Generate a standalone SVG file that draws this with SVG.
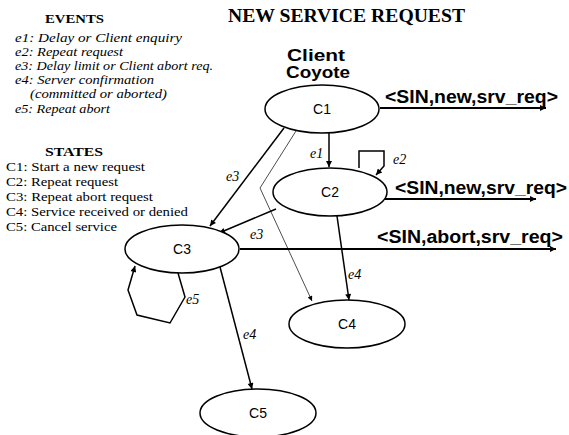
<svg xmlns="http://www.w3.org/2000/svg" width="569" height="435" viewBox="0 0 569 435">
<defs>
<marker id="ah" viewBox="0 0 10 10" refX="10" refY="5" markerWidth="9" markerHeight="6" markerUnits="userSpaceOnUse" orient="auto"><path d="M0,0 L10,5 L0,10 z" fill="#000"/></marker>
<marker id="ahs" viewBox="0 0 10 10" refX="10" refY="5" markerWidth="8" markerHeight="5" markerUnits="userSpaceOnUse" orient="auto"><path d="M0,0 L10,5 L0,10 z" fill="#000"/></marker>
<style>
.node{fill:#fff;stroke:#000;stroke-width:1.5}
.nl{font-family:"Liberation Sans",Arial,sans-serif;font-size:14px;text-anchor:middle}
.c{fill:none;stroke:#000;stroke-width:1.5}
.thin{fill:none;stroke:#000;stroke-width:0.7}
.out{fill:none;stroke:#000;stroke-width:2.2}
.el{font-family:"Liberation Serif","Times New Roman",serif;font-style:italic;font-size:14px}
.ml{font-family:"Liberation Sans",Arial,sans-serif;font-weight:bold;font-size:17.5px}
.cl{font-family:"Liberation Sans",Arial,sans-serif;font-weight:bold;font-size:16px}
.hd{font-family:"Liberation Serif","Times New Roman",serif;font-weight:bold;font-size:13px}
.ev{font-family:"Liberation Serif","Times New Roman",serif;font-style:italic;font-size:13.5px}
.st{font-family:"Liberation Serif","Times New Roman",serif;font-size:13.5px}
</style>
</defs>
<rect width="569" height="435" fill="#fff"/>
<g id="legend">
<text class="hd" x="45" y="23" textLength="59" lengthAdjust="spacingAndGlyphs">EVENTS</text>
<text class="ev" x="15" y="42" textLength="167" lengthAdjust="spacingAndGlyphs">e1: Delay or  Client enquiry</text>
<text class="ev" x="15" y="56" textLength="108" lengthAdjust="spacingAndGlyphs">e2: Repeat request</text>
<text class="ev" x="15" y="70" textLength="198" lengthAdjust="spacingAndGlyphs">e3: Delay limit or Client  abort req.</text>
<text class="ev" x="15" y="84" textLength="139" lengthAdjust="spacingAndGlyphs">e4: Server confirmation</text>
<text class="ev" x="30" y="98" textLength="137" lengthAdjust="spacingAndGlyphs">(committed or aborted)</text>
<text class="ev" x="15" y="113" textLength="95" lengthAdjust="spacingAndGlyphs">e5: Repeat abort</text>
<text class="hd" x="45" y="156" textLength="58" lengthAdjust="spacingAndGlyphs">STATES</text>
<text class="st" x="6" y="171" textLength="139" lengthAdjust="spacingAndGlyphs">C1: Start a new request</text>
<text class="st" x="6" y="186" textLength="112" lengthAdjust="spacingAndGlyphs">C2: Repeat request</text>
<text class="st" x="6" y="201" textLength="147" lengthAdjust="spacingAndGlyphs">C3: Repeat abort request</text>
<text class="st" x="6" y="216" textLength="182" lengthAdjust="spacingAndGlyphs">C4: Service received or denied</text>
<text class="st" x="6" y="231" textLength="111" lengthAdjust="spacingAndGlyphs">C5: Cancel service</text>
</g>
<g id="title">
<text x="228" y="22" font-family="Liberation Serif,'Times New Roman',serif" font-weight="bold" font-size="18px" textLength="237" lengthAdjust="spacingAndGlyphs">NEW SERVICE REQUEST</text>
<text x="287" y="61" class="cl" textLength="58" lengthAdjust="spacingAndGlyphs">Client</text>
<text x="286" y="78" class="cl" textLength="64" lengthAdjust="spacingAndGlyphs">Coyote</text>
</g>
<g id="connectors">
<path class="c" d="M329,133 L329,167" marker-end="url(#ah)"/>
<text class="el" x="310" y="158">e1</text>
<path class="c" d="M359,168 L359,151 L384,151 L384,166 L376,175" marker-end="url(#ah)"/>
<text class="el" x="393" y="164">e2</text>
<path class="c" d="M284,128 L210,226" marker-end="url(#ah)"/>
<text class="el" x="226" y="181">e3</text>
<path class="thin" d="M296,131 L260,188 L312,301" marker-end="url(#ahs)"/>
<path class="c" d="M276,209 L219,233" marker-end="url(#ah)"/>
<text class="el" x="250" y="239">e3</text>
<path class="c" d="M337,216 L349,300" marker-end="url(#ah)"/>
<text class="el" x="348" y="279">e4</text>
<path class="c" d="M220,267 L252,389" marker-end="url(#ah)"/>
<text class="el" x="243" y="339">e4</text>
<path class="c" d="M178,273 L185,297 L170,323 L137,315 L128,290 L135,266" marker-end="url(#ah)"/>
<text class="el" x="186" y="304">e5</text>
<path class="out" d="M380,108 L546,108" marker-end="url(#ah)"/>
<text class="ml" x="385" y="103" textLength="173" lengthAdjust="spacingAndGlyphs">&lt;SIN,new,srv_req&gt;</text>
<path class="out" d="M385,199 L536,199" marker-end="url(#ah)"/>
<text class="ml" x="395" y="194" textLength="172" lengthAdjust="spacingAndGlyphs">&lt;SIN,new,srv_req&gt;</text>
<path class="out" d="M240,249 L556,249" marker-end="url(#ah)"/>
<text class="ml" x="377" y="243" textLength="186" lengthAdjust="spacingAndGlyphs">&lt;SIN,abort,srv_req&gt;</text>
</g>
<g id="C1"><ellipse class="node" cx="322" cy="109" rx="57" ry="24"/><text class="nl" x="322" y="114">C1</text></g>
<g id="C2"><ellipse class="node" cx="330" cy="192" rx="57" ry="24"/><text class="nl" x="330" y="197">C2</text></g>
<g id="C3"><ellipse class="node" cx="182" cy="249" rx="57" ry="24"/><text class="nl" x="182" y="254">C3</text></g>
<g id="C4"><ellipse class="node" cx="347" cy="324" rx="58" ry="24"/><text class="nl" x="347" y="329">C4</text></g>
<g id="C5"><ellipse class="node" cx="258" cy="413" rx="58" ry="24"/><text class="nl" x="258" y="418">C5</text></g>
</svg>
